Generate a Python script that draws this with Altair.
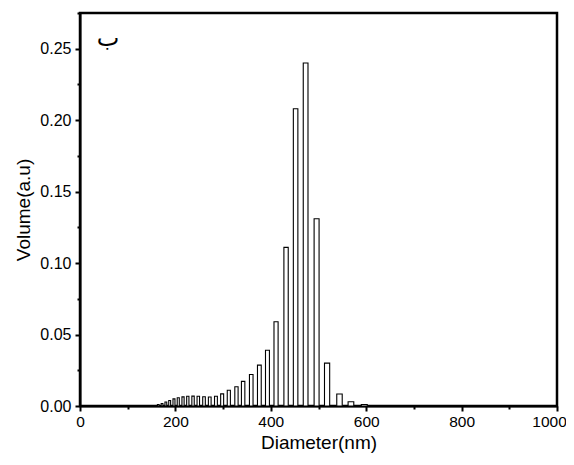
import altair as alt
import pandas as pd

diameter = [157, 164, 172, 180, 188, 197, 206, 216, 226, 237, 248, 260, 272, 285, 298,
            312, 328, 342, 359, 376, 393, 411, 432, 452, 473, 496, 518, 544, 568, 596]
volume = [0.0003, 0.001, 0.0017, 0.0028, 0.0038, 0.005, 0.0058, 0.0064, 0.0068, 0.0069,
          0.0068, 0.0065, 0.0063, 0.0068, 0.0085, 0.011, 0.0135, 0.0172, 0.022, 0.0286,
          0.039, 0.059, 0.111, 0.208, 0.240, 0.131, 0.030, 0.0084, 0.003, 0.001]

x_ticks = [0, 100, 200, 300, 400, 500, 600, 700, 800, 900, 1000]
y_ticks = [0, 0.025, 0.05, 0.075, 0.10, 0.125, 0.15, 0.175, 0.20, 0.225, 0.25, 0.275]
label_text = ["ب"]

df = pd.DataFrame({"d": diameter, "v": volume})

FONT = "Liberation Sans"

bars = alt.Chart(df).transform_calculate(
    lo="datum.d * 0.9895", hi="datum.d * 1.0105"
).mark_bar(fill="white", stroke="black", strokeWidth=1.1).encode(
    x=alt.X("lo:Q", scale=alt.Scale(domain=[0, 1000], nice=False),
            axis=alt.Axis(
                title="Diameter(nm)", values=x_ticks, format="d",
                labelExpr="datum.value % 200 === 0 ? datum.label : ''",
                tickSize={"condition": {"test": "datum.value % 200 === 0", "value": 5}, "value": 3},
                labelOffset={"condition": {"test": "datum.value === 1000", "value": -8}, "value": 0},
                tickWidth=2, domainWidth=2, domainColor="black", tickColor="black",
                labelFont=FONT, labelFontSize=15.5, labelColor="black", labelPadding=3,
                titleFont=FONT, titleFontSize=19, titleFontWeight="normal", titleColor="black",
                titlePadding=4, grid=False, labelFlush=False)),
    x2="hi:Q",
    y=alt.Y("v:Q", scale=alt.Scale(domain=[0, 0.275], nice=False),
            axis=alt.Axis(
                title="Volume(a.u)", values=y_ticks, format=".2f",
                labelExpr="round(datum.value * 1000) % 50 === 0 ? datum.label : ''",
                tickSize={"condition": {"test": "round(datum.value * 1000) % 50 === 0", "value": 5}, "value": 3},
                tickWidth=2, domainWidth=2, domainColor="black", tickColor="black",
                labelFont=FONT, labelFontSize=16, labelColor="black", labelPadding=4,
                titleFont=FONT, titleFontSize=19, titleFontWeight="normal", titleColor="black",
                titlePadding=6, grid=False, labelFlush=False)),
    y2=alt.datum(0),
)

text = alt.Chart(pd.DataFrame({"t": label_text})).mark_text(
    font="DejaVu Sans", fontSize=24, color="black", align="center", baseline="middle"
).encode(
    text="t:N",
    x=alt.value(28),
    y=alt.value(26),
)

chart = alt.layer(bars, text).properties(
    width=477, height=393,
    autosize=alt.AutoSizeParams(type="none"),
    padding={"left": 72, "top": 5, "right": 9, "bottom": 55},
).configure_view(stroke="black", strokeWidth=2.5)

chart.save("out.html", embed_options={"renderer": "svg", "actions": False})
